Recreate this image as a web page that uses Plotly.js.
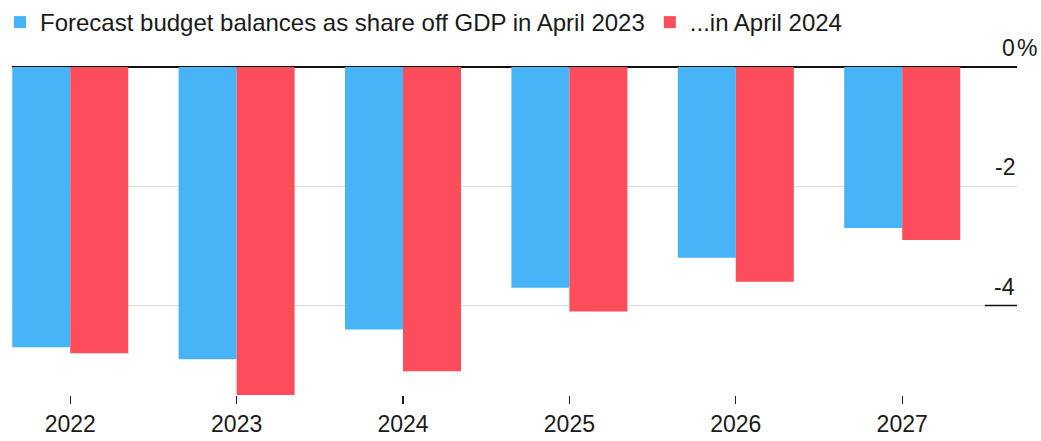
<!DOCTYPE html>
<html>
<head>
<meta charset="utf-8">
<script src="https://cdn.plot.ly/plotly-3.0.1.min.js"></script>
<style>html,body{margin:0;padding:0;background:#fff;}#chart{width:1041px;height:441px;}</style>
</head>
<body>
<div id="chart"></div>
<script>
const years = ['2022', '2023', '2024', '2025', '2026', '2027'];
const forecastApril2023 = [-4.7, -4.9, -4.4, -3.7, -3.2, -2.7];
const forecastApril2024 = [-4.8, -5.5, -5.1, -4.1, -3.6, -2.9];
const seriesNames = ['Forecast budget balances as share off GDP in April 2023', '...in April 2024'];
const yTickVals = [-4, -2, 0];
const yTickText = ['-4', '-2', '0'];
const yUnit = '%';

const FONT = 'Liberation Sans, Arial, Helvetica, sans-serif';
const TEXT = '#1a1a1a';

const traces = [
  {type: 'bar', x: years, y: forecastApril2023, name: seriesNames[0], marker: {color: '#46b4f7'}},
  {type: 'bar', x: years, y: forecastApril2024, name: seriesNames[1], marker: {color: '#fd4d5b'}}
];

const annotations = yTickVals.map((v, i) => ({
  xref: 'paper', yref: 'y', x: 1, y: v, xanchor: 'right', yanchor: 'bottom', yshift: 4, xshift: 0,
  text: yTickText[i], showarrow: false, font: {family: FONT, size: 23, color: TEXT}
}));
annotations.push({
  xref: 'paper', yref: 'y', x: 1, y: 0, xanchor: 'left', yanchor: 'bottom', yshift: 4, xshift: -2,
  text: yUnit, showarrow: false, font: {family: FONT, size: 23, color: TEXT}
});

const layout = {
  width: 1041, height: 441,
  margin: {l: 12, r: 24, t: 67, b: 46},
  paper_bgcolor: '#fff', plot_bgcolor: '#fff',
  font: {family: FONT, color: TEXT, size: 23},
  barmode: 'group', bargap: 0.303, bargroupgap: 0,
  showlegend: true,
  legend: {orientation: 'h', x: 0, y: 1, xref: 'container', yref: 'container', xanchor: 'left', yanchor: 'top',
           font: {family: FONT, size: 24, color: TEXT}, itemclick: false, traceorder: 'normal', tracegroupgap: 0,
           bgcolor: 'rgba(0,0,0,0)'},
  xaxis: {type: 'category', range: [-0.35, 5.69], showgrid: false, zeroline: false, showline: false,
          ticks: 'outside', ticklen: 8, tickwidth: 1.2, tickcolor: '#222',
          tickfont: {family: FONT, size: 23, color: TEXT}, fixedrange: true},
  yaxis: {range: [-5.5, 0], side: 'right', tickvals: yTickVals, showticklabels: false,
          showgrid: true, gridcolor: '#dcdcdc', gridwidth: 1,
          zeroline: true, zerolinecolor: '#111', zerolinewidth: 1.5,
          showline: false, ticks: '', fixedrange: true},
  shapes: [
    {type: 'line', xref: 'paper', yref: 'y', x0: 0.968, x1: 1, y0: -4, y1: -4, line: {color: '#111', width: 1.5}}
  ],
  annotations: annotations
};

Plotly.newPlot('chart', traces, layout, {displayModeBar: false, staticPlot: true});
</script>
</body>
</html>
